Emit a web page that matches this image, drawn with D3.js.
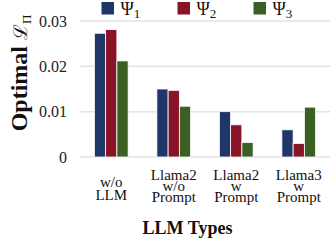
<!DOCTYPE html>
<html>
<head>
<meta charset="utf-8">
<script src="https://cdn.jsdelivr.net/npm/d3@7"></script>
<style>
  body { margin: 0; background: #fff; }
  svg { display: block; font-family: "Liberation Serif", "DejaVu Serif", serif; }
</style>
</head>
<body>
<svg id="chart"></svg>
<script>
var svg_width = 331;
var svg_height = 242;

// data
var categories = ["w/o LLM", "Llama2 w/o Prompt", "Llama2 w Prompt", "Llama3 w Prompt"];
var category_lines = [["w/o", "LLM"], ["Llama2", "w/o", "Prompt"], ["Llama2", "w", "Prompt"], ["Llama3", "w", "Prompt"]];
var series = ["1", "2", "3"];
var psi1 = [0.0273, 0.0150, 0.0100, 0.0060];
var psi2 = [0.0281, 0.0147, 0.0071, 0.0030];
var psi3 = [0.0212, 0.0112, 0.0032, 0.0110];
var y_ticks = [0, 0.01, 0.02, 0.03];
var colors = ["#1f3768", "#8a1427", "#3c5f23"];

var values = [psi1, psi2, psi3];

var plot_left = 80, plot_right = 330, plot_top = 21, plot_bottom = 157;

var svg = d3.select("#chart")
  .attr("width", svg_width)
  .attr("height", svg_height);

var xScale = d3.scaleBand().domain(categories).range([plot_left, plot_right]);
var xInner = d3.scaleBand().domain(series)
  .range([xScale.bandwidth() * 0.23, xScale.bandwidth() * 0.77]);
var yScale = d3.scaleLinear().domain([0, 0.03]).range([plot_bottom, plot_top]);

// gridlines
svg.append("g")
  .selectAll("line")
  .data(y_ticks)
  .enter()
  .append("line")
  .attr("x1", plot_left)
  .attr("x2", plot_right)
  .attr("y1", function(d) { return yScale(d); })
  .attr("y2", function(d) { return yScale(d); })
  .attr("stroke", "#e3e3e3")
  .attr("stroke-width", 1.5);

// y axis labels
var yAxis = d3.axisLeft(yScale)
  .tickValues(y_ticks)
  .tickSize(0)
  .tickPadding(0)
  .tickFormat(function(d) { return d === 0 ? "0" : d3.format(".2f")(d); });

var yg = svg.append("g")
  .attr("transform", "translate(67,0)")
  .call(yAxis);
yg.attr("font-family", null);
yg.select(".domain").remove();
yg.selectAll("text")
  .attr("font-family", "Liberation Serif")
  .attr("font-size", 16)
  .attr("fill", "#222");

// bars
var groups = svg.append("g")
  .selectAll("g")
  .data(categories)
  .enter()
  .append("g")
  .attr("transform", function(d) { return "translate(" + xScale(d) + ",0)"; });

groups.selectAll("rect")
  .data(function(d, i) {
    return series.map(function(s, j) { return {s: s, v: values[j][i], c: colors[j]}; });
  })
  .enter()
  .append("rect")
  .attr("x", function(d) { return xInner(d.s); })
  .attr("width", xInner.bandwidth())
  .attr("y", function(d) { return yScale(d.v); })
  .attr("height", function(d) { return yScale(0) - yScale(d.v); })
  .attr("fill", function(d) { return d.c; })
  .attr("stroke", "#fff")
  .attr("stroke-width", 0.8);

// x tick labels (multi-line, tightly stacked like the original)
var xl = svg.append("g")
  .selectAll("text")
  .data(categories)
  .enter()
  .append("text")
  .attr("text-anchor", "middle")
  .attr("font-size", 15)
  .attr("fill", "#111")
  .attr("transform", function(d) { return "translate(" + (xScale(d) + xScale.bandwidth() / 2) + ",0)"; });

xl.each(function(d, i) {
  var lines = category_lines[i];
  var base = lines.length === 3 ? 179.5 : 186.5;
  var step = lines.length === 3 ? 11 : 13;
  var t = d3.select(this);
  lines.forEach(function(l, k) {
    t.append("tspan").attr("x", 0).attr("y", base + k * step).text(l);
  });
});

// x axis title
svg.append("text")
  .attr("x", 187.5)
  .attr("y", 234)
  .attr("text-anchor", "middle")
  .attr("font-weight", "bold")
  .attr("font-size", 18)
  .attr("fill", "#111")
  .text("LLM Types");

// y axis title
var yt = svg.append("text")
  .attr("transform", "translate(27,73) rotate(-90)")
  .attr("text-anchor", "middle")
  .attr("font-size", 24)
  .attr("fill", "#111");
yt.append("tspan").attr("font-weight", "bold").text("Optimal ");
yt.append("tspan").attr("font-family", "DejaVu Serif").attr("font-size", 19).text("\u2112");
yt.append("tspan").attr("font-size", 13).attr("dy", 4).text("\u03A0");

// legend
var legend = svg.append("g")
  .selectAll("g")
  .data(series)
  .enter()
  .append("g")
  .attr("transform", function(d, i) { return "translate(" + (101.5 + i * 76) + ",2)"; });

legend.append("rect")
  .attr("width", 12.5)
  .attr("height", 12.5)
  .attr("fill", function(d, i) { return colors[i]; });

var lt = legend.append("text")
  .attr("x", 19)
  .attr("y", 13)
  .attr("font-size", 18)
  .attr("fill", "#111");
lt.append("tspan").text("\u03A8");
lt.append("tspan").attr("font-size", 13).attr("dy", 3).text(function(d) { return d; });
</script>
</body>
</html>
